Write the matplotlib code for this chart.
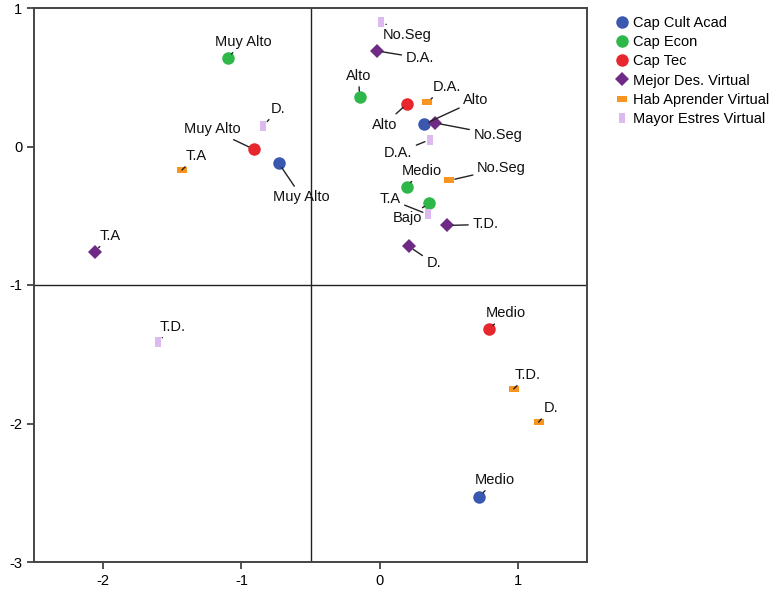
import matplotlib
matplotlib.use("Agg")
import matplotlib.pyplot as plt
from matplotlib.lines import Line2D

plt.rcParams['font.family'] = ['Liberation Sans', 'DejaVu Sans']

# --- data: category coordinates (dimension 1, dimension 2) ---
series_names = ["Cap Cult Acad", "Cap Econ", "Cap Tec", "Mejor Des. Virtual",
                "Hab Aprender Virtual", "Mayor Estres Virtual"]

cult_labels = ["Muy Alto", "Alto", "Medio"]
cult_x = [-0.73, 0.32, 0.72]
cult_y = [-0.12, 0.16, -2.53]

econ_labels = ["Muy Alto", "Alto", "Medio", "Bajo"]
econ_x = [-1.10, -0.145, 0.196, 0.357]
econ_y = [0.64, 0.36, -0.29, -0.41]

tec_labels = ["Muy Alto", "Alto", "Medio"]
tec_x = [-0.91, 0.20, 0.79]
tec_y = [-0.02, 0.31, -1.32]

des_labels = ["T.A", "D.A.", "No.Seg", "T.D.", "D."]
des_x = [-2.06, -0.02, 0.40, 0.49, 0.21]
des_y = [-0.76, 0.69, 0.17, -0.57, -0.72]

hab_labels = ["T.A", "D.A.", "No.Seg", "T.D.", "D."]
hab_x = [-1.43, 0.34, 0.505, 0.97, 1.15]
hab_y = [-0.17, 0.32, -0.245, -1.75, -1.99]

est_labels = ["No.Seg", "D.", "D.A.", "T.A", "T.D."]
est_x = [0.01, -0.84, 0.365, 0.35, -1.60]
est_y = [0.90, 0.15, 0.05, -0.49, -1.41]

# --- styling / label placement (pixel offsets from the point) ---
styles = [
    dict(marker='o', color='#3b58b0', ms=9),
    dict(marker='o', color='#2eb84a', ms=9),
    dict(marker='o', color='#e8262d', ms=9),
    dict(marker='D', color='#6e2a85', ms=7),
    dict(marker=[(-1.5, -0.9), (1.5, -0.9), (1.5, 0.9), (-1.5, 0.9)], color='#f7951e', ms=7),
    dict(marker=[(-0.8, -1.3), (0.8, -1.3), (0.8, 1.3), (-0.8, 1.3)], color='#dcbaf0', ms=7),
]

offsets = [
    [(23, -34), (52, 24), (16, 17)],
    [(16, 16), (-1, 21), (15, 16), (-22, -15)],
    [(-42, 20), (-23, -21), (17, 16)],
    [(15, 16), (43, -7), (63, -12), (38, 1), (25, -17)],
    [(14, 14), (20, 15), (52, 12), (14, 14), (12, 14)],
    [(26, -13), (15, 17), (-32, -13), (-38, 15), (14, 15)],
]

series = [
    (cult_x, cult_y, cult_labels),
    (econ_x, econ_y, econ_labels),
    (tec_x, tec_y, tec_labels),
    (des_x, des_y, des_labels),
    (hab_x, hab_y, hab_labels),
    (est_x, est_y, est_labels),
]

fig = plt.figure(figsize=(7.76, 5.94), dpi=100)
ax = fig.add_axes([34 / 776, 1 - 562 / 594, (587 - 34) / 776, (562 - 8) / 594])

ax.axvline(-0.5, color='#222222', lw=1, zorder=1)
ax.axhline(-1, color='#222222', lw=1, zorder=1)

handles = []
for (xs, ys, labs), st, offs, name in zip(series, styles, offsets, series_names):
    ax.plot(xs, ys, linestyle='none', marker=st['marker'], color=st['color'],
            markersize=st['ms'], markeredgewidth=0, zorder=3)
    for x, y, lab, off in zip(xs, ys, labs, offs):
        ax.annotate(lab, (x, y), xytext=off, textcoords='offset pixels',
                    ha='center', va='center', fontsize=10.5, color='#111111',
                    arrowprops=dict(arrowstyle='-', color='#222222', lw=1,
                                    shrinkA=1, shrinkB=4),
                    zorder=4)
    handles.append(Line2D([], [], linestyle='none', marker=st['marker'],
                          color=st['color'], markersize=st['ms'],
                          markeredgewidth=0, label=name))

ax.set_xlim(-2.5, 1.5)
ax.set_ylim(-3, 1)
ax.set_xticks([-2, -1, 0, 1])
ax.set_yticks([-3, -2, -1, 0, 1])
ax.set_xticklabels(['-2', '-1', '0', '1'])
ax.set_yticklabels(['-3', '-2', '-1', '0', '1'])
ax.tick_params(direction='out', length=5, width=1.2, labelsize=10.5, color='#333333')
for sp in ax.spines.values():
    sp.set_color('#444444')
    sp.set_linewidth(1.4)

fig.legend(handles=handles, loc='upper left', bbox_to_anchor=(610 / 776, 1 - 10 / 594),
           frameon=False, fontsize=10.5, handlelength=0.8, handletextpad=0.4,
           labelspacing=0.36, borderaxespad=0)

fig.savefig('out.png', dpi=100)
